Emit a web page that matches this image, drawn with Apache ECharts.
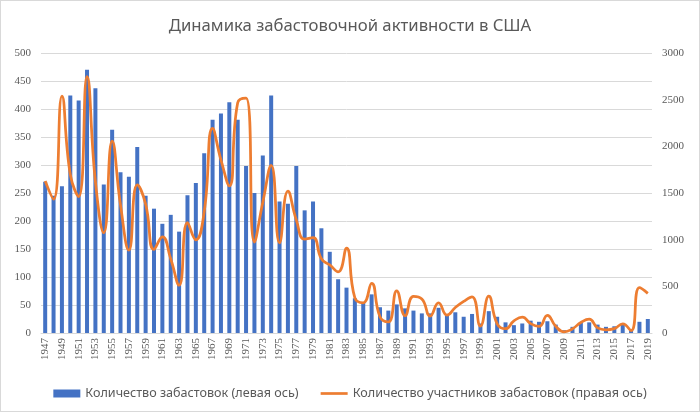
<!DOCTYPE html>
<html>
<head>
<meta charset="utf-8">
<script src="https://cdn.jsdelivr.net/npm/echarts@6/dist/echarts.min.js"></script>
<style>
html, body { margin: 0; padding: 0; background: #fff; }
#main { width: 700px; height: 412px; box-sizing: border-box; border: 1px solid #d9d9d9; }
</style>
</head>
<body>
<div id="main"></div>
<script>
var years = [];
for (var y = 1947; y <= 2019; y++) { years.push(String(y)); }

// количество забастовок (левая ось)
var strikes = [270, 245, 262, 424, 415, 470, 437, 265, 363, 287,
	279, 332, 245, 222, 195, 211, 181, 246, 268, 321,
	381, 392, 412, 381, 298, 250, 317, 424, 235, 231,
	298, 219, 235, 187, 145, 96, 81, 62, 54, 69,
	46, 40, 51, 44, 40, 35, 35, 45, 31, 37,
	29, 34, 17, 39, 29, 19, 14, 17, 22, 20,
	21, 15, 5, 11, 19, 19, 15, 11, 12, 15,
	7, 20, 25];

// количество участников, тыс. (правая ось)
var participants = [1629, 1435, 2537, 1698, 1462, 2746, 1623, 1075, 2055, 1370,
	887, 1587, 1381, 896, 1031, 793, 512, 1183, 999, 1300,
	2192, 1855, 1576, 2468, 2516, 975, 1400, 1796, 965, 1519,
	1212, 1006, 1021, 795, 729, 656, 909, 376, 324, 533,
	174, 118, 452, 185, 392, 364, 182, 322, 192, 273,
	339, 387, 73, 394, 99, 46, 129, 171, 100, 70,
	189, 72, 13, 45, 113, 148, 55, 34, 47, 99,
	25, 485, 425];

var leftTicks = [0, 500, 50];   // min, max, шаг
var rightTicks = [0, 3000, 500];

var myChart = echarts.init(document.getElementById('main'));
var labelColor = '#595959';
var option = {
	animation: false,
	title: {
		text: 'Динамика забастовочной активности в США',
		left: 'center',
		top: 12,
		textStyle: {
			color: labelColor,
			fontFamily: 'Noto Sans',
			fontWeight: 'normal',
			fontSize: 16.7
		}
	},
	legend: {
		top: 381,
		left: 'center',
		itemWidth: 27,
		itemHeight: 8,
		itemGap: 22,
		textStyle: {
			color: labelColor,
			fontFamily: 'Noto Sans',
			fontSize: 12.6
		},
		data: [
			{ name: 'Количество забастовок (левая ось)', icon: 'rect' },
			{ name: 'Количество участников забастовок (правая ось)', icon: 'path://M0,0 H30 V3 H0 Z' }
		]
	},
	grid: {
		left: 40,
		right: 47,
		top: 52,
		bottom: 78
	},
	xAxis: {
		type: 'category',
		data: years,
		axisLine: { lineStyle: { color: '#d9d9d9' } },
		axisTick: { show: false },
		axisLabel: {
			rotate: 90,
			interval: 1,
			margin: 5,
			color: labelColor,
			fontFamily: 'Liberation Serif',
			fontSize: 11
		}
	},
	yAxis: [{
		type: 'value',
		min: leftTicks[0],
		max: leftTicks[1],
		interval: leftTicks[2],
		axisLine: { show: false },
		axisTick: { show: false },
		splitLine: { lineStyle: { color: '#d9d9d9' } },
		axisLabel: {
			margin: 10,
			color: labelColor,
			fontFamily: 'Liberation Serif',
			fontSize: 11
		}
	}, {
		type: 'value',
		min: rightTicks[0],
		max: rightTicks[1],
		interval: rightTicks[2],
		axisLine: { show: false },
		axisTick: { show: false },
		splitLine: { show: false },
		axisLabel: {
			margin: 10,
			color: labelColor,
			fontFamily: 'Liberation Serif',
			fontSize: 11,
			formatter: function (v) { return String(v); }
		}
	}],
	series: [{
		name: 'Количество забастовок (левая ось)',
		type: 'bar',
		yAxisIndex: 0,
		barWidth: 4,
		itemStyle: { color: '#4472c4' },
		data: strikes
	}, {
		name: 'Количество участников забастовок (правая ось)',
		type: 'line',
		yAxisIndex: 1,
		smooth: 0.5,
		symbol: 'none',
		lineStyle: { color: '#ed7d31', width: 2.75 },
		itemStyle: { color: '#ed7d31' },
		data: participants
	}]
};
myChart.setOption(option);
</script>
</body>
</html>
